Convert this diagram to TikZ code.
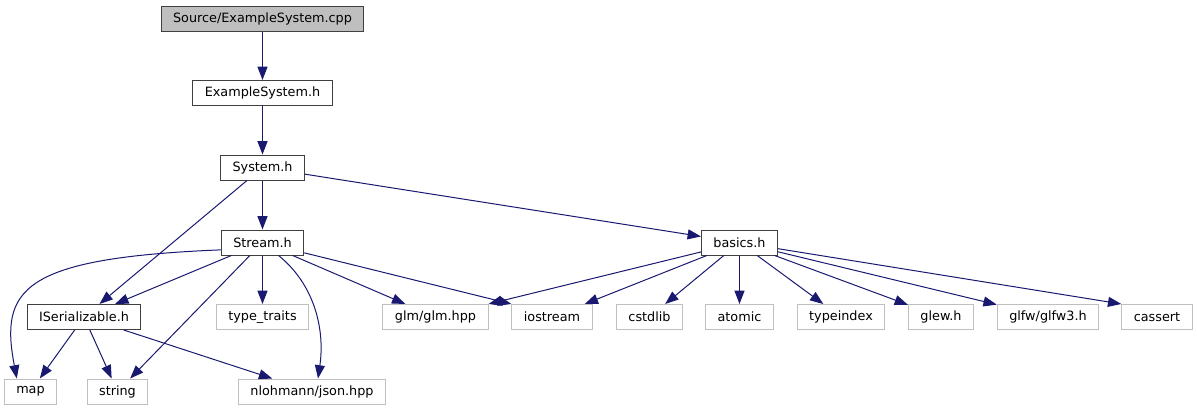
\documentclass[tikz,border=0pt]{standalone}
\usepackage{fontspec}
\setmainfont{DejaVu Sans}
\usetikzlibrary{arrows.meta}

\begin{document}
\begin{tikzpicture}[
  x=0.75pt,y=0.75pt,
  dep/.style={draw=edgeCol,line width=0.75pt,
              -{Triangle[length=10pt,width=7.5pt]}},
  header/.style={rectangle,draw=black!75,fill=white,line width=0.75pt,
                 minimum height=18.75pt,inner xsep=9pt,inner ysep=0pt},
  external/.style={header,draw=greyBox},
  every node/.style={font=\fontsize{9.6}{11}\selectfont},
]
\definecolor{edgeCol}{HTML}{191970}
\definecolor{greyBox}{HTML}{BFBFBF}

\useasboundingbox (0,0) rectangle (1197,-411);

% Project headers, top to bottom.
\node[header,fill=greyBox] (src) at (262.5,-18.5) {Source/ExampleSystem.cpp};
\node[header] (exh) at (262.5,-93) {ExampleSystem.h};
\node[header] (sys) at (262.5,-167.5) {System.h};
\node[header] (stream) at (262.5,-242.5) {Stream.h};
\node[header] (basics) at (739.5,-242.5) {basics.h};
\node[header] (iser) at (84,-317) {ISerializable.h};

% Library headers without a page of their own.
\foreach \x/\name/\txt in {262.5/tt/type\_traits,435.5/glm/{glm/glm.hpp},
  552/ios/iostream,649.5/cstd/cstdlib,739.5/atomic/atomic,
  841/tidx/typeindex,941/glew/glew.h,1048/glfw/{glfw/glfw3.h},
  1157/cassert/cassert}
  \node[external] (\name) at (\x,-317) {\txt};
\foreach \x/\name/\txt in {30.5/map/map,117.5/str/string,
  312/json/{nlohmann/json.hpp}}
  \node[external] (\name) at (\x,-391.5) {\txt};

\draw[dep] (src) -- (exh);
\draw[dep] (exh) -- (sys);
\draw[dep] (sys) -- (stream);
\draw[dep] (sys) -- (iser);
\draw[dep] (sys) -- (basics);

\foreach \t in {iser,str,tt,glm}
  \draw[dep] (stream) -- (\t);
\draw[dep] (stream) -- (ios.north west);
\draw[dep] (stream.190) .. controls (20,-258) and (0,-290)
  .. ([xshift=9.75pt]map.north west);
\draw[dep] (stream.-39) .. controls (315,-285) and (325,-330)
  .. ([xshift=4.5pt]json.north);

\foreach \t in {map,str,json}
  \draw[dep] (iser) -- (\t);

\draw[dep] (basics) -- (glm.north east);
\foreach \t in {ios,cstd,atomic,tidx,glew,glfw}
  \draw[dep] (basics) -- (\t);
\draw[dep] (basics) -- (cassert.north west);
\end{tikzpicture}
\end{document}
